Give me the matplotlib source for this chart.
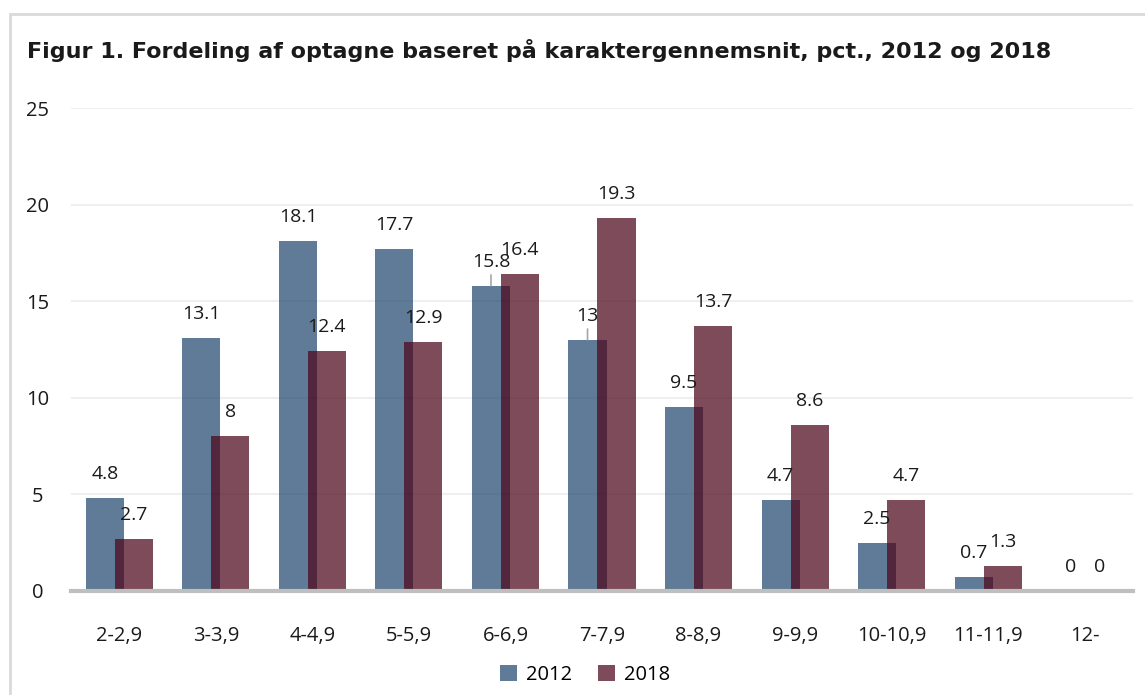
import matplotlib
matplotlib.use("Agg")
import matplotlib.pyplot as plt
from matplotlib.patches import Rectangle
import numpy as np

plt.rcParams['font.family'] = ['Open Sans', 'DejaVu Sans']

categories = ["2-2,9", "3-3,9", "4-4,9", "5-5,9", "6-6,9", "7-7,9", "8-8,9",
              "9-9,9", "10-10,9", "11-11,9", "12-"]
values_2012 = [4.8, 13.1, 18.1, 17.7, 15.8, 13, 9.5, 4.7, 2.5, 0.7, 0]
values_2018 = [2.7, 8, 12.4, 12.9, 16.4, 19.3, 13.7, 8.6, 4.7, 1.3, 0]
leader_2012 = [False, False, False, False, True, True, False, False, False, False, False]
yticks = [0, 5, 10, 15, 20, 25]
title = "Figur 1. Fordeling af optagne baseret på karaktergennemsnit, pct., 2012 og 2018"

blue = "#21486f"
red = "#4d061b"
alpha = 0.72
txt = "#1a1a1a"
fs = 14.5
fs_lab = 14

fig = plt.figure(figsize=(11.45, 6.95), dpi=100)
fig.patch.set_facecolor("white")
fig.add_artist(Rectangle((10/1145, -0.1), 1.2, 1 - 14/695 + 0.1, transform=fig.transFigure,
                         fill=False, edgecolor="#d9d9d9", linewidth=2))

ax = fig.add_axes([71/1145, 1 - 591/695, (1133 - 71)/1145, (591 - 108)/695])
x = np.arange(len(categories))
w = 0.394
off = 0.15
b1 = ax.bar(x - off, values_2012, w, color=blue, alpha=alpha, label="2012", zorder=2)
b2 = ax.bar(x + off, values_2018, w, color=red, alpha=alpha, label="2018", zorder=3)

ax.set_xlim(-0.5, len(categories) - 0.5)
ax.set_ylim(0, 25)
ax.set_yticks(yticks)
ax.set_xticks(x)
ax.set_xticklabels(categories)
ax.tick_params(axis='both', length=0, labelsize=fs, colors=txt)
ax.tick_params(axis='y', pad=24)
ax.tick_params(axis='x', pad=25)
for lab in ax.get_yticklabels():
    lab.set_horizontalalignment('center')
ax.grid(axis='y', color="#efefef", linewidth=1.5, zorder=0)
ax.set_axisbelow(True)
for s in ["top", "right", "left"]:
    ax.spines[s].set_visible(False)
ax.spines["bottom"].set_color("#bfbfbf")
ax.spines["bottom"].set_linewidth(3)
ax.spines["bottom"].set_zorder(4)

offset_pts = 24 * 0.72
for xi, v, lead in zip(x - off, values_2012, leader_2012):
    if lead:
        ax.annotate(f"{v:g}", xy=(xi, v), xytext=(0, offset_pts), textcoords="offset points",
                    ha="center", va="center", fontsize=fs_lab, color=txt,
                    arrowprops=dict(arrowstyle="-", color="#a6a6a6", lw=1.2,
                                    shrinkA=1, shrinkB=0), zorder=5)
    else:
        ax.annotate(f"{v:g}", xy=(xi, v), xytext=(0, offset_pts), textcoords="offset points",
                    ha="center", va="center", fontsize=fs_lab, color=txt, zorder=5)
for xi, v in zip(x + off, values_2018):
    ax.annotate(f"{v:g}", xy=(xi, v), xytext=(0, offset_pts), textcoords="offset points",
                ha="center", va="center", fontsize=fs_lab, color=txt, zorder=5)

fig.text(27/1145, 1 - 50/695, title, fontsize=16, fontweight="bold", color=txt,
         ha="left", va="center", family="DejaVu Sans")

fig.legend(handles=[b1, b2], labels=["2012", "2018"], loc="center",
           bbox_to_anchor=(585/1145, 1 - 675/695), ncol=2, frameon=False,
           fontsize=fs, handlelength=0.85, handleheight=0.85, columnspacing=1.3,
           handletextpad=0.45)

fig.savefig("out.png", dpi=100, facecolor="white")
